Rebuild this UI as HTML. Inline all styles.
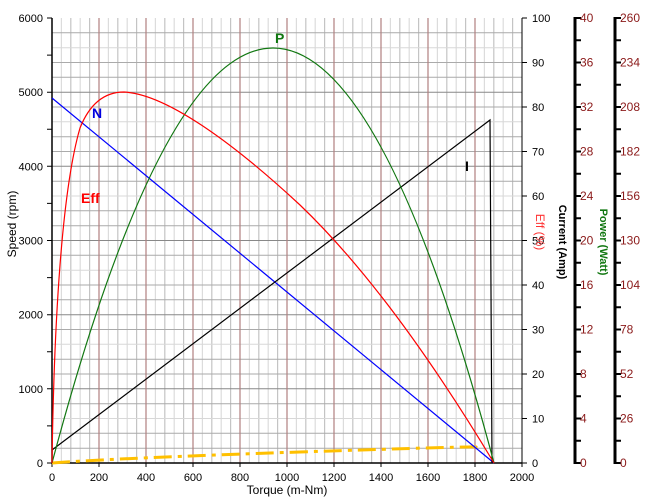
<!DOCTYPE html>
<html><head><meta charset="utf-8"><style>body{margin:0;background:#fff}svg{display:block;font-family:"Liberation Sans",sans-serif}</style></head><body>
<svg width="645" height="502" xmlns="http://www.w3.org/2000/svg">
<g fill="none">
<path stroke="#dcdcdc" stroke-width="1.2" d="M61.4,18V463M80.2,18V463M108.4,18V463M127.2,18V463M155.4,18V463M174.2,18V463M202.4,18V463M221.2,18V463M249.4,18V463M268.2,18V463M296.4,18V463M315.2,18V463M343.4,18V463M362.2,18V463M390.4,18V463M409.2,18V463M437.4,18V463M456.2,18V463M484.4,18V463M503.2,18V463"/>
<path stroke="#c4c4c4" stroke-width="1.2" d="M70.8,18V463M89.6,18V463M117.8,18V463M136.6,18V463M164.8,18V463M183.6,18V463M211.8,18V463M230.6,18V463M258.8,18V463M277.6,18V463M305.8,18V463M324.6,18V463M352.8,18V463M371.6,18V463M399.8,18V463M418.6,18V463M446.8,18V463M465.6,18V463M493.8,18V463M512.6,18V463"/>
<path stroke="#d8d8d8" d="M52,47.7H522M52,121.8H522M52,196H522M52,270.2H522M52,344.3H522M52,418.5H522"/>
<path stroke="#aaa" d="M52,32.8H522M52,62.5H522M52,77.3H522M52,107H522M52,136.7H522M52,151.5H522M52,181.2H522M52,210.8H522M52,225.7H522M52,255.3H522M52,285H522M52,299.8H522M52,329.5H522M52,359.2H522M52,374H522M52,403.7H522M52,433.3H522M52,448.2H522"/>
<path stroke="#888" d="M52,92.2H522M52,166.3H522M52,240.5H522M52,314.7H522M52,388.8H522"/>
<path stroke="#b08080" stroke-width="1.2" d="M99,18V463M146,18V463M193,18V463M240,18V463M287,18V463M334,18V463M381,18V463M428,18V463M475,18V463"/>
</g>
<g stroke="#000" fill="none">
<path stroke-width="1.5" d="M52,18V463H522"/>
<path d="M522,18V463"/>
<path d="M47,463H52M47,425.9H52M47,388.8H52M47,351.8H52M47,314.7H52M47,277.6H52M47,240.5H52M47,203.4H52M47,166.3H52M47,129.3H52M47,92.2H52M47,55.1H52M47,18H52"/>
<path d="M52,463V467M99,463V467M146,463V467M193,463V467M240,463V467M287,463V467M334,463V467M381,463V467M428,463V467M475,463V467M522,463V467"/>
<path d="M522,463H527M522,418.5H527M522,374H527M522,329.5H527M522,285H527M522,240.5H527M522,196H527M522,151.5H527M522,107H527M522,62.5H527M522,18H527"/>
<path stroke-width="3" d="M575,17V464M615,17V464"/>
<path stroke-width="2" d="M575,463H581M575,418.5H581M575,374H581M575,329.5H581M575,285H581M575,240.5H581M575,196H581M575,151.5H581M575,107H581M575,62.5H581M575,18H581M575,440.75H581M575,396.25H581M575,351.75H581M575,307.25H581M575,262.75H581M575,218.25H581M575,173.75H581M575,129.25H581M575,84.75H581M575,40.25H581"/>
<path stroke-width="2" d="M615,463H621M615,418.5H621M615,374H621M615,329.5H621M615,285H621M615,240.5H621M615,196H621M615,151.5H621M615,107H621M615,62.5H621M615,18H621M615,440.75H621M615,396.25H621M615,351.75H621M615,307.25H621M615,262.75H621M615,218.25H621M615,173.75H621M615,129.25H621M615,84.75H621M615,40.25H621"/>
</g>
<g font-size="11" text-anchor="end">
<text x="43" y="467">0</text><text x="43" y="392.8">1000</text><text x="43" y="318.7">2000</text><text x="43" y="244.5">3000</text><text x="43" y="170.3">4000</text><text x="43" y="96.2">5000</text><text x="43" y="22">6000</text>
</g>
<g font-size="11" text-anchor="middle">
<text x="52" y="481">0</text><text x="99" y="481">200</text><text x="146" y="481">400</text><text x="193" y="481">600</text><text x="240" y="481">800</text><text x="287" y="481">1000</text><text x="334" y="481">1200</text><text x="381" y="481">1400</text><text x="428" y="481">1600</text><text x="475" y="481">1800</text><text x="522" y="481">2000</text>
</g>
<g font-size="11">
<text x="532" y="467">0</text><text x="532" y="422.5">10</text><text x="532" y="378">20</text><text x="532" y="333.5">30</text><text x="532" y="289">40</text><text x="532" y="244.5">50</text><text x="532" y="200">60</text><text x="532" y="155.5">70</text><text x="532" y="111">80</text><text x="532" y="66.5">90</text><text x="532" y="22">100</text>
</g>
<g font-size="12" fill="#8b1a1a">
<text x="580" y="467">0</text><text x="580" y="422.5">4</text><text x="580" y="378">8</text><text x="580" y="333.5">12</text><text x="580" y="289">16</text><text x="580" y="244.5">20</text><text x="580" y="200">24</text><text x="580" y="155.5">28</text><text x="580" y="111">32</text><text x="580" y="66.5">36</text><text x="580" y="22">40</text>
<text x="620" y="467">0</text><text x="620" y="422.5">26</text><text x="620" y="378">52</text><text x="620" y="333.5">78</text><text x="620" y="289">104</text><text x="620" y="244.5">130</text><text x="620" y="200">156</text><text x="620" y="155.5">182</text><text x="620" y="111">208</text><text x="620" y="66.5">234</text><text x="620" y="22">260</text>
</g>
<g fill="none" stroke-width="1.2">
<path d="M52,463 Q120,458 300,452 T476,447" stroke="#ffc000" stroke-width="3" stroke-dasharray="18,6,4,6"/>
<line x1="52" y1="98" x2="494" y2="463" stroke="#00f"/>
<path d="M52,450 L490,120 L492,463" stroke="#000"/>
<path d="M52,463 Q273,-367 494,463" stroke="#117711"/>
<path d="M52,463 C54,320 62,190 80,128 C92,98 110,92 124,92 C165,94 230,140 300,205 C370,272 435,365 494,463" stroke="#f00"/>
</g>
<text x="92" y="118" font-size="14" font-weight="bold" fill="#0000e0">N</text>
<text x="275" y="43" font-size="14" font-weight="bold" fill="#117711">P</text>
<text x="81" y="203" font-size="14" font-weight="bold" fill="#f00">Eff</text>
<text x="465" y="171" font-size="14" font-weight="bold" fill="#000">I</text>
<text transform="translate(16,224) rotate(-90)" font-size="12" text-anchor="middle">Speed (rpm)</text>
<text x="287" y="494" font-size="12" text-anchor="middle">Torque (m-Nm)</text>
<text transform="translate(536,232) rotate(90)" font-size="12" text-anchor="middle" fill="#f33">Eff (%)</text>
<text transform="translate(559,242) rotate(90)" font-size="11" font-weight="bold" text-anchor="middle">Current (Amp)</text>
<text transform="translate(600,242) rotate(90)" font-size="11" font-weight="bold" text-anchor="middle" fill="#117711">Power (Watt)</text>
</svg>
</body></html>
